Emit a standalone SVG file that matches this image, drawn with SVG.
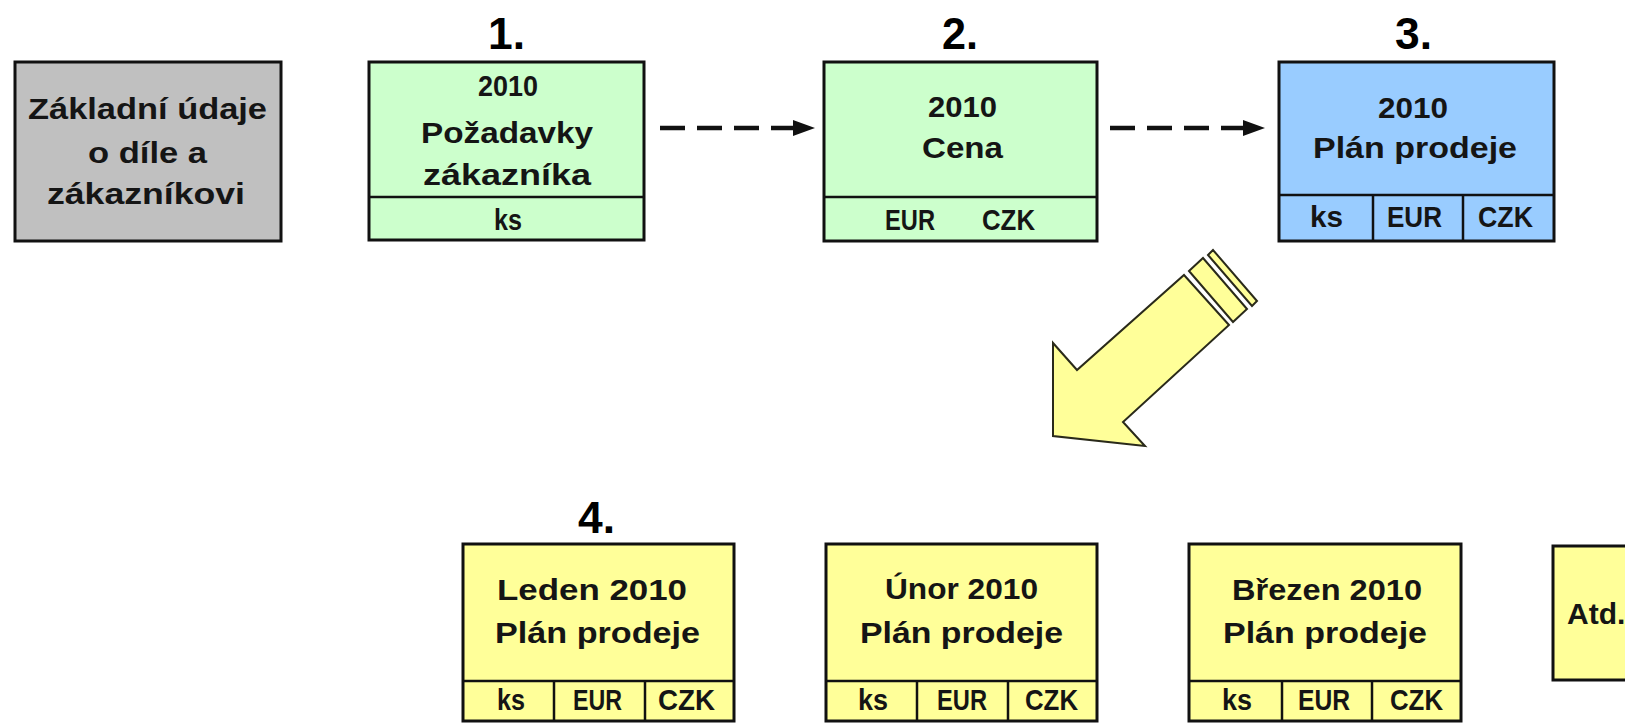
<svg xmlns="http://www.w3.org/2000/svg" width="1625" height="723" viewBox="0 0 1625 723">
  <style>
    .box { stroke: #111; stroke-width: 3; }
    .div { stroke: #111; stroke-width: 2.5; fill: none; }
    .gray { fill: #C0C0C0; }
    .green { fill: #CCFFCC; }
    .blue { fill: #99CCFF; }
    .yellow { fill: #FFFF99; }
    .t { font-family: "Liberation Sans", Arial, sans-serif; font-weight: bold; font-size: 30px; fill: #151515; }
    .num { font-family: "Liberation Sans", Arial, sans-serif; font-weight: bold; font-size: 45px; fill: #000; }
    .dash { stroke: #111; stroke-width: 4.5; stroke-dasharray: 25 12; fill: none; }
    .big-arrow { fill: #FFFF99; stroke: #2a2a1a; stroke-width: 2; stroke-linejoin: miter; }
  </style>
  <defs>
    <marker id="head" markerUnits="userSpaceOnUse" markerWidth="22" markerHeight="16" refX="0" refY="8" orient="auto">
      <path d="M0,0 L22,8 L0,16 z" fill="#111"/>
    </marker>
  </defs>

  <rect width="1625" height="723" fill="#fff"/>

  <!-- Basic data -->
  <g id="node-zakladni">
    <rect class="box gray" x="15" y="62" width="266" height="179"/>
    <text class="t" x="28" y="119" textLength="239" lengthAdjust="spacingAndGlyphs">Základní údaje</text>
    <text class="t" x="88" y="163" textLength="119" lengthAdjust="spacingAndGlyphs">o díle a</text>
    <text class="t" x="47" y="204" textLength="198" lengthAdjust="spacingAndGlyphs">zákazníkovi</text>
  </g>

  <!-- 1. Customer requirements -->
  <g id="node-pozadavky">
    <text class="num" x="488" y="49" textLength="37" lengthAdjust="spacingAndGlyphs">1.</text>
    <rect class="box green" x="369" y="62" width="275" height="178"/>
    <line class="div" x1="369" y1="197" x2="644" y2="197"/>
    <text class="t" x="478" y="96" textLength="60" lengthAdjust="spacingAndGlyphs">2010</text>
    <text class="t" x="421" y="143" textLength="172" lengthAdjust="spacingAndGlyphs">Požadavky</text>
    <text class="t" x="423" y="185" textLength="168" lengthAdjust="spacingAndGlyphs">zákazníka</text>
    <text class="t" x="494" y="230" textLength="28" lengthAdjust="spacingAndGlyphs">ks</text>
  </g>

  <!-- 2. Price -->
  <g id="node-cena">
    <text class="num" x="942" y="49" textLength="36" lengthAdjust="spacingAndGlyphs">2.</text>
    <rect class="box green" x="824" y="62" width="273" height="179"/>
    <line class="div" x1="824" y1="197" x2="1097" y2="197"/>
    <text class="t" x="928" y="117" textLength="69" lengthAdjust="spacingAndGlyphs">2010</text>
    <text class="t" x="922" y="158" textLength="81" lengthAdjust="spacingAndGlyphs">Cena</text>
    <text class="t" x="885" y="230" textLength="50" lengthAdjust="spacingAndGlyphs">EUR</text>
    <text class="t" x="982" y="230" textLength="53" lengthAdjust="spacingAndGlyphs">CZK</text>
  </g>

  <!-- 3. Yearly sales plan -->
  <g id="node-plan-2010">
    <text class="num" x="1395" y="49" textLength="37" lengthAdjust="spacingAndGlyphs">3.</text>
    <rect class="box blue" x="1279" y="62" width="275" height="179"/>
    <line class="div" x1="1279" y1="195" x2="1554" y2="195"/>
    <line class="div" x1="1373" y1="195" x2="1373" y2="241"/>
    <line class="div" x1="1463" y1="195" x2="1463" y2="241"/>
    <text class="t" x="1378" y="118" textLength="70" lengthAdjust="spacingAndGlyphs">2010</text>
    <text class="t" x="1313" y="158" textLength="204" lengthAdjust="spacingAndGlyphs">Plán prodeje</text>
    <text class="t" x="1310" y="227" textLength="33" lengthAdjust="spacingAndGlyphs">ks</text>
    <text class="t" x="1387" y="227" textLength="55" lengthAdjust="spacingAndGlyphs">EUR</text>
    <text class="t" x="1478" y="227" textLength="55" lengthAdjust="spacingAndGlyphs">CZK</text>
  </g>

  <!-- 4. Monthly plans -->
  <g id="node-leden">
    <text class="num" x="578" y="533" textLength="37" lengthAdjust="spacingAndGlyphs">4.</text>
    <rect class="box yellow" x="463" y="544" width="271" height="177"/>
    <line class="div" x1="463" y1="681" x2="734" y2="681"/>
    <line class="div" x1="554" y1="681" x2="554" y2="721"/>
    <line class="div" x1="645" y1="681" x2="645" y2="721"/>
    <text class="t" x="497" y="600" textLength="190" lengthAdjust="spacingAndGlyphs">Leden 2010</text>
    <text class="t" x="495" y="643" textLength="205" lengthAdjust="spacingAndGlyphs">Plán prodeje</text>
    <text class="t" x="497" y="710" textLength="28" lengthAdjust="spacingAndGlyphs">ks</text>
    <text class="t" x="573" y="710" textLength="49" lengthAdjust="spacingAndGlyphs">EUR</text>
    <text class="t" x="658" y="710" textLength="57" lengthAdjust="spacingAndGlyphs">CZK</text>
  </g>

  <g id="node-unor">
    <rect class="box yellow" x="826" y="544" width="271" height="177"/>
    <line class="div" x1="826" y1="681" x2="1097" y2="681"/>
    <line class="div" x1="917" y1="681" x2="917" y2="721"/>
    <line class="div" x1="1008" y1="681" x2="1008" y2="721"/>
    <text class="t" x="885" y="599" textLength="153" lengthAdjust="spacingAndGlyphs">Únor 2010</text>
    <text class="t" x="860" y="643" textLength="203" lengthAdjust="spacingAndGlyphs">Plán prodeje</text>
    <text class="t" x="858" y="710" textLength="30" lengthAdjust="spacingAndGlyphs">ks</text>
    <text class="t" x="937" y="710" textLength="50" lengthAdjust="spacingAndGlyphs">EUR</text>
    <text class="t" x="1025" y="710" textLength="53" lengthAdjust="spacingAndGlyphs">CZK</text>
  </g>

  <g id="node-brezen">
    <rect class="box yellow" x="1189" y="544" width="272" height="177"/>
    <line class="div" x1="1189" y1="681" x2="1461" y2="681"/>
    <line class="div" x1="1282" y1="681" x2="1282" y2="721"/>
    <line class="div" x1="1372" y1="681" x2="1372" y2="721"/>
    <text class="t" x="1232" y="600" textLength="190" lengthAdjust="spacingAndGlyphs">Březen 2010</text>
    <text class="t" x="1223" y="643" textLength="204" lengthAdjust="spacingAndGlyphs">Plán prodeje</text>
    <text class="t" x="1222" y="710" textLength="30" lengthAdjust="spacingAndGlyphs">ks</text>
    <text class="t" x="1298" y="710" textLength="52" lengthAdjust="spacingAndGlyphs">EUR</text>
    <text class="t" x="1390" y="710" textLength="53" lengthAdjust="spacingAndGlyphs">CZK</text>
  </g>

  <g id="node-atd">
    <rect class="box yellow" x="1553" y="546" width="100" height="134"/>
    <text class="t" x="1567" y="624">Atd.</text>
  </g>

  <!-- Connectors -->
  <g id="connectors">
    <line class="dash" x1="660" y1="128" x2="793" y2="128" marker-end="url(#head)"/>
    <line class="dash" x1="1110" y1="128" x2="1243" y2="128" marker-end="url(#head)"/>
    <!-- block arrow from the yearly plan down to the monthly plans -->
    <g id="breakdown-arrow">
      <polygon class="big-arrow" points="1053,436 1053,343 1077,370 1184,275 1229,325 1123,422 1145,446"/>
      <polygon class="big-arrow" points="1189,271 1203,258 1247,309 1233,322"/>
      <polygon class="big-arrow" points="1208,255 1213,250 1257,301 1252,306"/>
    </g>
  </g>
</svg>
